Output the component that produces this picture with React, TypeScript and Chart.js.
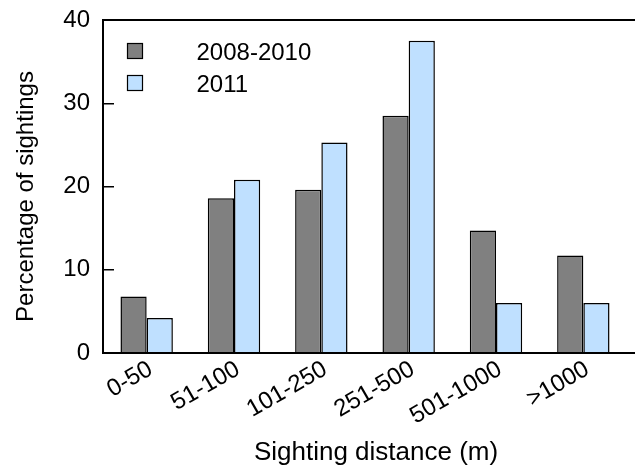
import React, { useEffect, useRef } from "react";
import { Chart, registerables } from "chart.js";

Chart.register(...registerables);

// Sighting distance classes and the share of sightings in each
const categories = ["0-50", "51-100", "101-250", "251-500", "501-1000", ">1000"];
const series2008to2010 = [6.8, 18.6, 19.6, 28.5, 14.7, 11.7];
const series2011 = [4.2, 20.8, 25.3, 37.5, 6.0, 6.0];
const yTicks = [0, 10, 20, 30, 40];
const xTitle = "Sighting distance (m)";
const yTitle = "Percentage of sightings";

const FONT = "'Liberation Sans', Arial, Helvetica, sans-serif";
const DARK = "#808080";
const LIGHT = "#bfe0ff";

// Open frame: left axis, plus baseline and top rule running to the canvas edge
const framePlugin = {
  id: "frame",
  afterDatasetsDraw(chart: any) {
    const { ctx, chartArea, width } = chart;
    ctx.save();
    ctx.strokeStyle = "#000";
    ctx.lineWidth = 2;
    ctx.beginPath();
    ctx.moveTo(width, chartArea.top);
    ctx.lineTo(chartArea.left, chartArea.top);
    ctx.lineTo(chartArea.left, chartArea.bottom);
    ctx.lineTo(width, chartArea.bottom);
    ctx.stroke();
    ctx.restore();
  },
};

// Axis titles, set slightly off the plot-area centre
const axisTitles = {
  id: "axisTitles",
  afterDraw(chart: any) {
    const { ctx, chartArea } = chart;
    ctx.save();
    ctx.fillStyle = "#000";
    ctx.textAlign = "center";
    ctx.font = `26px ${FONT}`;
    ctx.textBaseline = "alphabetic";
    ctx.fillText(xTitle, (chartArea.left + chartArea.right) / 2 + 11, chartArea.bottom + 107);
    ctx.translate(chartArea.left - 76.5, (chartArea.top + chartArea.bottom) / 2 + 10);
    ctx.rotate(-Math.PI / 2);
    ctx.font = `24px ${FONT}`;
    ctx.textBaseline = "middle";
    ctx.fillText(yTitle, 0, 0);
    ctx.restore();
  },
};

// Legend drawn inside the plot area, top-left
const insideLegend = {
  id: "insideLegend",
  afterDraw(chart: any) {
    const { ctx, chartArea } = chart;
    ctx.save();
    ctx.font = `24px ${FONT}`;
    ctx.textBaseline = "middle";
    ctx.textAlign = "left";
    chart.data.datasets.forEach((ds: any, i: number) => {
      const x = chartArea.left + 24.5;
      const y = chartArea.top + 23.5 + i * 32;
      ctx.fillStyle = ds.backgroundColor;
      ctx.fillRect(x, y, 15, 15);
      ctx.strokeStyle = "#000";
      ctx.lineWidth = 1.2;
      ctx.strokeRect(x, y, 15, 15);
      ctx.fillStyle = "#000";
      ctx.fillText(ds.label, x + 69, y + 9.5);
    });
    ctx.restore();
  },
};

export default function App() {
  const canvasRef = useRef<HTMLCanvasElement | null>(null);

  useEffect(() => {
    if (!canvasRef.current) return;
    const chart = new Chart(canvasRef.current, {
      type: "bar",
      data: {
        labels: categories,
        datasets: [
          {
            label: "2008-2010",
            data: series2008to2010,
            backgroundColor: DARK,
            borderColor: "#000",
            borderWidth: 1.5,
            categoryPercentage: 0.6,
            barPercentage: 1.0,
          },
          {
            label: "2011",
            data: series2011,
            backgroundColor: LIGHT,
            borderColor: "#000",
            borderWidth: 1.5,
            categoryPercentage: 0.6,
            barPercentage: 1.0,
          },
        ],
      },
      options: {
        responsive: false,
        animation: false,
        devicePixelRatio: 1,
        layout: { padding: { top: 20, right: 8, left: 0, bottom: 0 } },
        plugins: {
          legend: { display: false },
          tooltip: { enabled: false },
        },
        scales: {
          x: {
            grid: { display: false, drawTicks: false },
            border: { display: false },
            ticks: {
              color: "#000",
              font: { family: FONT, size: 24 },
              minRotation: 30,
              maxRotation: 30,
              autoSkip: false,
              padding: 2,
              labelOffset: 4,
            },
            afterFit(scale: any) {
              scale.height = 113;
              scale.paddingLeft = 0;
              scale.paddingRight = 0;
            },
          },
          y: {
            min: yTicks[0],
            max: yTicks[yTicks.length - 1],
            afterBuildTicks(scale: any) {
              scale.ticks = yTicks.map((v) => ({ value: v }));
            },
            grid: {
              drawOnChartArea: false,
              drawTicks: true,
              tickLength: -11,
              color: "#000",
              lineWidth: 1.5,
            },
            border: { display: false },
            ticks: {
              color: "#000",
              font: { family: FONT, size: 24 },
              padding: 24,
            },
            afterFit(scale: any) {
              scale.width = 103;
              scale.paddingTop = 0;
              scale.paddingBottom = 0;
            },
          },
        },
      },
      plugins: [framePlugin, axisTitles, insideLegend],
    });
    return () => chart.destroy();
  }, []);

  return (
    <div style={{ position: "fixed", left: 0, top: 0, width: 635, height: 466, background: "#fff" }}>
      <canvas ref={canvasRef} width={635} height={466} />
    </div>
  );
}
